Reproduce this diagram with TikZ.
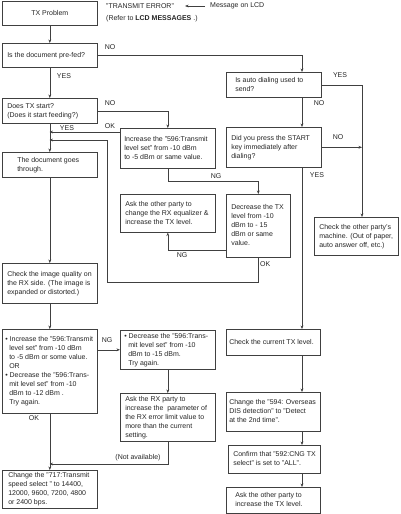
\documentclass[tikz,border=0pt]{standalone}
\usepackage{fontspec}
\setmainfont{Liberation Sans}
\usetikzlibrary{arrows.meta}
% #1 name, #2 x1, #3 y1, #4 x2, #5 y2, #6 indent, #7 lines
\newcommand\flowbox[7]{%
  \pgfmathsetmacro\fbw{#4-#2}\pgfmathsetmacro\fbh{#5-#3}%
  \node[box, minimum width=\fbw pt, minimum height=\fbh pt] (#1) at (#2,#3)
    {\makebox[\fbw pt][l]{\hspace*{#6pt}\begin{tabular}{@{}l@{}}#7\end{tabular}}};}
\newcommand\hi{\hspace*{4pt}}
\begin{document}
\begin{tikzpicture}[x=1pt, y=-1pt,
  font=\fontsize{7}{9}\selectfont,
  box/.style={draw=black!75, line width=0.6pt, inner sep=0pt, anchor=north west, text=black!85},
  lbl/.style={inner sep=0pt, text=black!85},
  arr/.style={draw=black!75, line width=0.6pt, -{Stealth[length=3.5pt,width=2.8pt]}}]
\fill[white] (0,0) rectangle (400,514);
\useasboundingbox (0,0) rectangle (400,514);
\coordinate (colR) at (302,0);
\coordinate (colRR) at (362,0);
% header
\pgfmathsetmacro\fbw{95}
\node[box, minimum width=95pt, minimum height=24pt] (tx) at (2,1) {\makebox[95pt][c]{TX Problem}};
\node[lbl, anchor=west] (te) at (106,6) {"TRANSMIT ERROR"};
\node[lbl, anchor=west] (ref) at (106,19) {(Refer to \textbf{LCD MESSAGES} .)};
\node[lbl, anchor=west] (msg) at (210,6) {Message on LCD};
% left column
\flowbox{pre}{2}{43}{97}{67}{5}{Is the document pre-fed?}
\flowbox{start}{2}{98}{97}{123}{5}{Does TX start?\\(Does it start feeding?)}
\flowbox{through}{2}{152}{97}{177}{15}{The document goes\\through.}
\flowbox{chk}{2}{263}{97}{303}{5}{Check the image quality on\\the RX side. (The image is\\expanded or distorted.)}
\flowbox{big}{2}{329}{97}{413}{3}{• Increase the "596:Transmit\\\hi level set" from -10 dBm\\\hi to -5 dBm or some value.\\\hi OR\\• Decrease the "596:Trans-\\\hi mit level set" from -10\\\hi dBm to -12 dBm .\\\hi Try again.}
\flowbox{c717}{2}{470}{97}{508}{6}{Change the "717:Transmit\\speed select " to 14400,\\12000, 9600, 7200, 4800\\or 2400 bps.}
% middle column
\flowbox{inc}{120}{128}{215}{168}{4}{Increase the "596:Transmit\\level set" from -10 dBm\\to -5 dBm or same value.}
\flowbox{askeq}{120}{194}{215}{232}{5}{Ask the other party to\\change the RX equalizer \&\\increase the TX level.}
\flowbox{dec}{226}{194}{290}{257}{5}{Decrease the TX\\level from -10\\dBm to - 15\\dBm or same\\value.}
\flowbox{dec596}{120}{330}{215}{369}{4}{• Decrease the "596:Trans-\\\hi mit level set" from -10\\\hi dBm to -15 dBm.\\\hi Try again.}
\flowbox{askrx}{120}{393}{215}{441}{5}{Ask the RX party to\\increase the\ \ parameter of\\the RX error limit value to\\more than the current\\setting.}
% right column
\flowbox{auto}{226}{72}{321}{97}{9}{Is auto dialing used to\\send?}
\flowbox{press}{226}{127}{321}{167}{5}{Did you press the START\\key immediately after\\dialing?}
\flowbox{other}{314}{217}{398}{255}{5}{Check the other party's\\machine. (Out of paper,\\auto answer off, etc.)}
\flowbox{curtx}{226}{329}{320}{355}{3}{Check the current TX level.}
\flowbox{c594}{226}{392}{320}{431}{3}{Change the "594: Overseas\\DIS detection" to "Detect\\at the 2nd time".}
\flowbox{cng}{228}{445}{320}{473}{5}{Confirm that "592:CNG TX\\select" is set to "ALL".}
\flowbox{askinc}{226}{487}{320}{513}{9}{Ask the other party to\\increase the TX level.}
% coordinates
\coordinate (okA) at (49.5,132);
\coordinate (okB) at (107,282);
\coordinate (okC) at (49.5,140);
\coordinate (na) at (49.5,464);
% connectors
\draw[arr] ([xshift=-5pt]msg.west) -- ([xshift=11pt]te.east);
\draw[arr] (tx.south) -- (pre.north);
\draw[arr] (pre.east) -| (auto.north -| colR);
\draw[arr] (pre.south) -- (start.north);
\draw[arr] (start.east) -| (inc.north);
\draw[arr] (start.south) -- (through.north);
\draw[arr] (okA -| inc.west) -- (okA);
\draw[arr] (dec.south) |- (okB) |- (okC);
\draw[arr] (through.south) -- (chk.north);
\draw[arr] (inc.south) -- ++(0,13) -| (dec.north);
\draw[arr] (dec.west |- 0,250) -| (askeq.south);
\draw[arr] (auto.east) -| (other.north -| colRR);
\draw[arr] (auto.south -| colR) -- (press.north -| colR);
\draw[arr] (press.east) -- (press.east -| colRR);
\draw[arr] (press.south -| colR) -- (curtx.north -| colR);
\draw[arr] (chk.south) -- (big.north);
\draw[arr] (big.east |- dec596.west) -- (dec596.west);
\draw[arr] (dec596.south) -- (askrx.north);
\draw[arr] (askrx.south) |- (na);
\draw[arr] (big.south) -- (c717.north);
\draw[arr] (curtx.south -| colR) -- (c594.north -| colR);
\draw[arr] (c594.south -| colR) -- (cng.north -| colR);
\draw[arr] (cng.south -| colR) -- (askinc.north -| colR);
% labels
\node[lbl] (lno1) at (110,47) {NO};
\node[lbl] (lyes1) at (64,76) {YES};
\node[lbl] (lno2) at (110,103) {NO};
\node[lbl] (lyes2) at (67,128) {YES};
\node[lbl] (lok1) at (110,126) {OK};
\node[lbl] (lng1) at (216,176) {NG};
\node[lbl] (lng2) at (182,255) {NG};
\node[lbl, anchor=west] (lok2) at (260,264) {OK};
\node[lbl] (lyes3) at (340,75) {YES};
\node[lbl] (lno3) at (319,103) {NO};
\node[lbl] (lno4) at (338,137) {NO};
\node[lbl] (lyes4) at (317,175) {YES};
\node[lbl] (lng3) at (107,340) {NG};
\node[lbl] (lna) at (138,458) {(Not available)};
\node[lbl] (lok3) at (34,418) {OK};
\end{tikzpicture}
\end{document}
